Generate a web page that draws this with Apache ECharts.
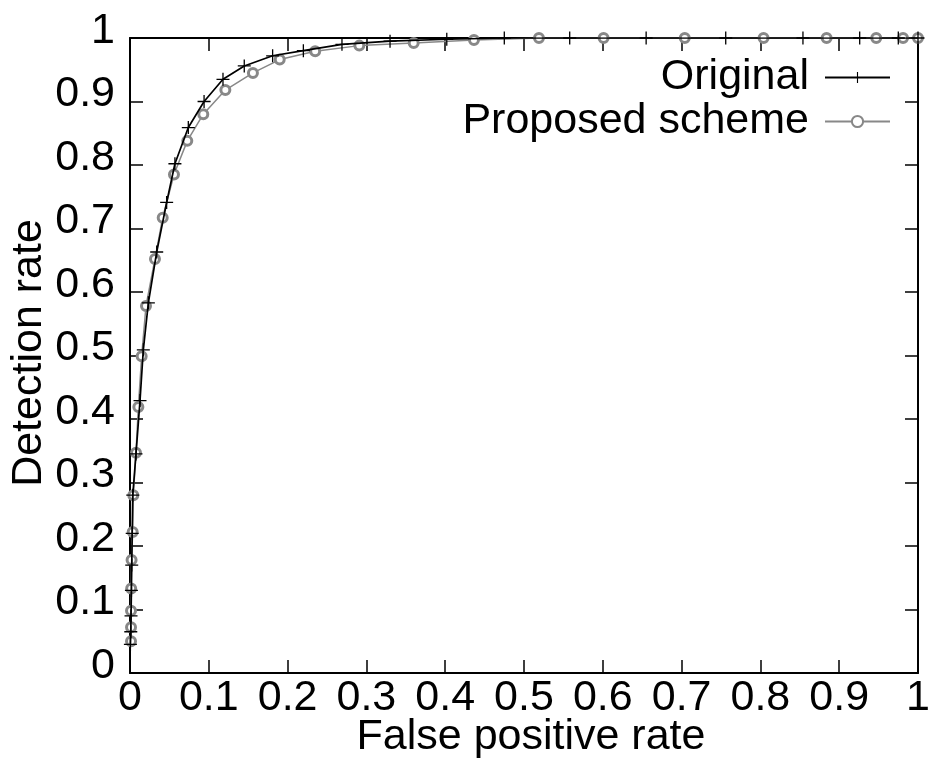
<!DOCTYPE html>
<html>
<head>
<meta charset="utf-8">
<script src="https://cdn.jsdelivr.net/npm/echarts@6/dist/echarts.min.js"></script>
<style>
html,body{margin:0;padding:0;background:#fff;}
#c{width:933px;height:763px;}
</style>
</head>
<body>
<div id="c"></div>
<script>
var xTickLabels = ['0','0.1','0.2','0.3','0.4','0.5','0.6','0.7','0.8','0.9','1'];
var yTickLabels = ['0','0.1','0.2','0.3','0.4','0.5','0.6','0.7','0.8','0.9','1'];

var originalName = 'Original';
var originalFpr = [0.0005,0.001,0.0013,0.0018,0.0022,0.0028,0.0035,0.0076,0.0127,0.0169,0.0233,0.0339,0.0465,0.057,0.074,0.094,0.118,0.145,0.181,0.220,0.269,0.330,0.402,0.475,0.558,0.655,0.756,0.854,0.926,0.975,1.0];
var originalTpr = [0.045,0.065,0.09,0.13,0.17,0.22,0.28,0.345,0.429,0.509,0.583,0.663,0.741,0.802,0.859,0.900,0.935,0.956,0.972,0.980,0.990,0.995,0.998,1.0,1.0,1.0,1.0,1.0,1.0,1.0,1.0];

var proposedName = 'Proposed scheme';
var proposedFpr = [0.0013,0.0013,0.0013,0.0015,0.002,0.0034,0.0042,0.0076,0.0106,0.0148,0.0203,0.0317,0.0415,0.0558,0.0727,0.093,0.121,0.156,0.190,0.235,0.291,0.360,0.4365,0.519,0.601,0.704,0.804,0.884,0.947,0.981,1.0];
var proposedTpr = [0.05,0.072,0.098,0.133,0.178,0.222,0.280,0.347,0.419,0.499,0.578,0.652,0.717,0.785,0.838,0.880,0.918,0.945,0.966,0.979,0.988,0.992,0.997,1.0,1.0,1.0,1.0,1.0,1.0,1.0,1.0];

function pairs(xs, ys){ return xs.map(function(x,i){ return [x, ys[i]]; }); }

var FONT = 'Liberation Sans';
var FS = 43;
var plusPath = 'path://M-1,-10H1V-1H10V1H1V10H-1V1H-10V-1H-1Z';

var chart = echarts.init(document.getElementById('c'), null, {renderer:'canvas'});
var axisCommon = {
  type:'value', min:0, max:1, interval:0.1,
  axisLine:{show:true, onZero:false, lineStyle:{color:'#000', width:2}},
  axisTick:{show:true, inside:true, length:13, lineStyle:{color:'#000', width:1.5}},
  splitLine:{show:false}
};
chart.setOption({
  animation:false,
  backgroundColor:'#fff',
  textStyle:{fontFamily:FONT},
  grid:{left:130, top:38, right:15, bottom:90, containLabel:false, outerBoundsMode:'none'},
  legend:[
    {data:[originalName], orient:'vertical', align:'right', right:42, top:56, padding:0,
     itemWidth:65, itemHeight:14,
     textStyle:{fontFamily:FONT, fontSize:FS, color:'#000', padding:[0,11,7,0]}},
    {data:[proposedName], orient:'vertical', align:'right', right:42, top:100, padding:0,
     itemWidth:65, itemHeight:14,
     textStyle:{fontFamily:FONT, fontSize:FS, color:'#000', padding:[0,11,7,0]}}
  ],
  xAxis:[
    Object.assign({}, axisCommon, {
      position:'bottom', name:'False positive rate', nameLocation:'middle', nameGap:43,
      nameMoveOverlap:false,
      nameTextStyle:{fontFamily:FONT, fontSize:FS, color:'#000', padding:[0,0,0,14]},
      axisLabel:{show:true, margin:4, fontFamily:FONT, fontSize:FS, color:'#000',
        formatter:function(v){ return xTickLabels[Math.round(v*10)]; }}
    }),
    Object.assign({}, axisCommon, {position:'top', axisLabel:{show:false}})
  ],
  yAxis:[
    Object.assign({}, axisCommon, {
      position:'left', name:'Detection rate', nameLocation:'middle', nameGap:79,
      nameMoveOverlap:false,
      nameTextStyle:{fontFamily:FONT, fontSize:FS, color:'#000', padding:[0,0,0,5]},
      axisLabel:{show:true, margin:15, fontFamily:FONT, fontSize:FS, color:'#000',
        verticalAlign:'bottom', lineHeight:14,
        formatter:function(v){ return yTickLabels[Math.round(v*10)]; }}
    }),
    Object.assign({}, axisCommon, {position:'right', axisLabel:{show:false}})
  ],
  series:[
    {
      name:originalName, type:'line', xAxisIndex:0, yAxisIndex:0,
      data:pairs(originalFpr, originalTpr),
      symbol:plusPath, symbolSize:13, showSymbol:true, showAllSymbol:true,
      lineStyle:{color:'#000', width:1.7, type:'solid'},
      itemStyle:{color:'#000'},
      z:3
    },
    {
      name:proposedName, type:'line', xAxisIndex:0, yAxisIndex:0,
      data:pairs(proposedFpr, proposedTpr),
      symbol:'circle', symbolSize:9, showSymbol:true, showAllSymbol:true,
      lineStyle:{color:'#888', width:1.5, type:'solid'},
      itemStyle:{color:'#fff', borderColor:'#888', borderWidth:3},
      z:2
    }
  ]
});
</script>
</body>
</html>
